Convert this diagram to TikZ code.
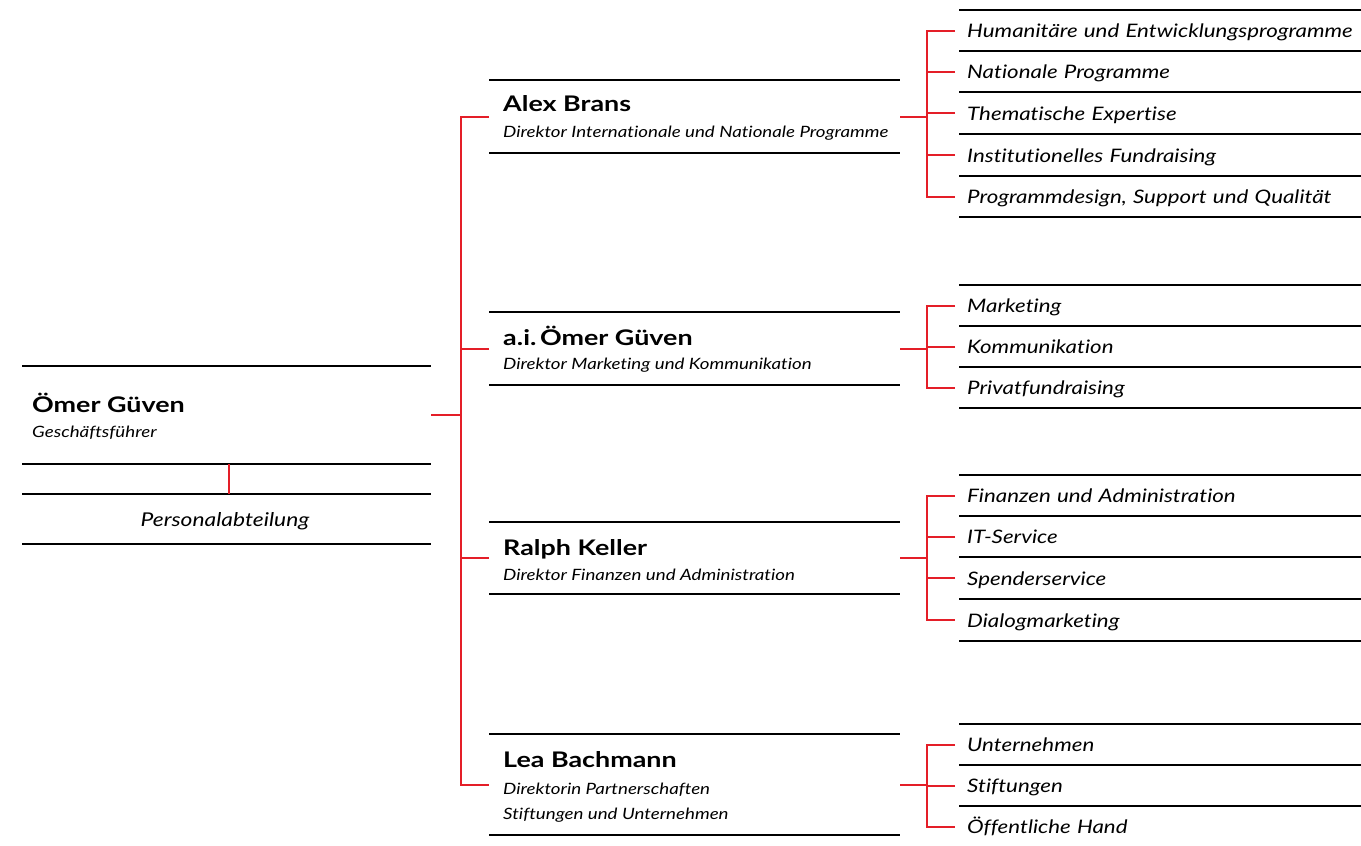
\documentclass[tikz,border=0pt]{standalone}
\usepackage{fontspec}
\setmainfont{Lato}[FakeStretch=1.2, Ligatures=CommonOff]
\newfontfamily\namefont{Lato}[FakeStretch=1.25, Ligatures=CommonOff]
\definecolor{orgred}{RGB}{228,30,40}
\begin{document}
\begin{tikzpicture}[x=1pt,y=-1pt,
  rule/.style={line width=2pt, black},
  conn/.style={line width=2pt, orgred},
  box/.style={rectangle, draw=none, inner sep=0pt, anchor=north west},
  namet/.style={anchor=base west, inner sep=0pt, font=\namefont\bfseries\fontsize{21.5}{24}\selectfont},
  role/.style={anchor=base west, inner sep=0pt, font=\itshape\fontsize{15.6}{18}\selectfont},
  item/.style={rectangle, draw=none, anchor=west, inner xsep=8pt, inner ysep=0pt,
    text width=386pt, align=left, text height=14pt, text depth=0pt,
    font=\itshape\fontsize{18.6}{22}\selectfont}
]
\useasboundingbox (0,0) rectangle (1361,846);

% ---------- CEO ----------
\node[box, minimum width=409pt, minimum height=98pt] (ceo) at (22,366) {};
\node[namet] (ceoname) at (32,412) {Ömer Güven};
\node[role] (ceorole) at (32,437) {Geschäftsführer};
\node[box, minimum width=409pt, minimum height=50pt] (hr) at (22,494) {};
\node[anchor=base, inner sep=0pt, font=\itshape\fontsize{19}{22}\selectfont] (hrtext) at (225,526) {Personalabteilung};
\foreach \n in {ceo,hr}{
  \draw[rule] (\n.north west) -- (\n.north east);
  \draw[rule] (\n.south west) -- (\n.south east);
}

% ---------- Directors ----------
\node[box, minimum width=411pt, minimum height=73pt] (alex) at (489,80) {};
\node[namet] (alexname) at (503,111) {Alex Brans};
\node[role] (alexrole) at (503,137) {Direktor Internationale und Nationale Programme};

\node[box, minimum width=411pt, minimum height=73pt] (ai) at (489,312) {};
\node[namet] (ainame) at (503,345) {a.i.\,Ömer Güven};
\node[role] (airole) at (503,369) {Direktor Marketing und Kommunikation};

\node[box, minimum width=411pt, minimum height=72pt] (ralph) at (489,522) {};
\node[namet] (ralphname) at (503,555) {Ralph Keller};
\node[role] (ralphrole) at (503,580) {Direktor Finanzen und Administration};

\node[box, minimum width=411pt, minimum height=101pt] (lea) at (489,734) {};
\node[namet] (leaname) at (503,767) {Lea Bachmann};
\node[role] (learole) at (503,794) {Direktorin Partnerschaften};
\node[role] (learole2) at (503,819) {Stiftungen und Unternehmen};

\foreach \n in {alex,ai,ralph,lea}{
  \draw[rule] (\n.north west) -- (\n.north east);
  \draw[rule] (\n.south west) -- (\n.south east);
}

% ---------- Items ----------
\begin{scope}[every node/.append style={item}]
\node[minimum height=41pt] (a1) at (959,30.5) {Humanitäre und Entwicklungsprogramme};
\node[minimum height=41pt] (a2) at (959,71.5) {Nationale Programme};
\node[minimum height=42pt] (a3) at (959,113) {Thematische Expertise};
\node[minimum height=42pt] (a4) at (959,155) {Institutionelles Fundraising};
\node[minimum height=41pt] (a5) at (959,196.5) {Programmdesign, Support und Qualität};

\node[minimum height=41pt] (b1) at (959,305.5) {Marketing};
\node[minimum height=41pt] (b2) at (959,346.5) {Kommunikation};
\node[minimum height=41pt] (b3) at (959,387.5) {Privatfundraising};

\node[minimum height=41pt] (c1) at (959,495.5) {Finanzen und Administration};
\node[minimum height=41pt] (c2) at (959,536.5) {IT-Service};
\node[minimum height=42pt] (c3) at (959,578) {Spenderservice};
\node[minimum height=42pt] (c4) at (959,620) {Dialogmarketing};

\node[minimum height=41pt] (d1) at (959,744.5) {Unternehmen};
\node[minimum height=41pt] (d2) at (959,785.5) {Stiftungen};
\node[minimum height=41pt] (d3) at (959,826.5) {Öffentliche Hand};
\end{scope}

\foreach \n in {a1,a2,a3,a4,a5,b1,b2,b3,c1,c2,c3,c4,d1,d2,d3}{
  \draw[rule] (\n.north west) -- (\n.north east);
}
\foreach \n in {a5,b3,c4}{
  \draw[rule] (\n.south west) -- (\n.south east);
}

% ---------- Connectors ----------
\coordinate (spine) at (461,0);
\coordinate (rs) at (927,0);

\draw[conn] (ceo.east) -- (ceo.east -| spine);
\draw[conn] ([xshift=2.5pt]ceo.south) -- ([xshift=2.5pt]hr.north);
\draw[conn] (alex.west) -- (alex.west -| spine) -- (lea.west -| spine) -- (lea.west);
\draw[conn] (ai.west) -- (ai.west -| spine);
\draw[conn] (ralph.west) -- (ralph.west -| spine);

% Alex group
\draw[conn] (alex.east) -- (alex.east -| rs);
\draw[conn] ([xshift=-4pt]a1.west) -- (a1.west -| rs) -- (a5.west -| rs) -- ([xshift=-4pt]a5.west);
\foreach \n in {a2,a3,a4}{ \draw[conn] ([xshift=-4pt]\n.west) -- (\n.west -| rs); }
% a.i. group
\draw[conn] (ai.east) -- (ai.east -| rs);
\draw[conn] ([xshift=-4pt]b1.west) -- (b1.west -| rs) -- (b3.west -| rs) -- ([xshift=-4pt]b3.west);
\draw[conn] ([xshift=-4pt]b2.west) -- (b2.west -| rs);
% Ralph group
\draw[conn] (ralph.east) -- (ralph.east -| rs);
\draw[conn] ([xshift=-4pt]c1.west) -- (c1.west -| rs) -- (c4.west -| rs) -- ([xshift=-4pt]c4.west);
\foreach \n in {c2,c3}{ \draw[conn] ([xshift=-4pt]\n.west) -- (\n.west -| rs); }
% Lea group
\draw[conn] (lea.east) -- (lea.east -| rs);
\draw[conn] ([xshift=-4pt]d1.west) -- (d1.west -| rs) -- (d3.west -| rs) -- ([xshift=-4pt]d3.west);
\draw[conn] ([xshift=-4pt]d2.west) -- (d2.west -| rs);
\end{tikzpicture}
\end{document}
